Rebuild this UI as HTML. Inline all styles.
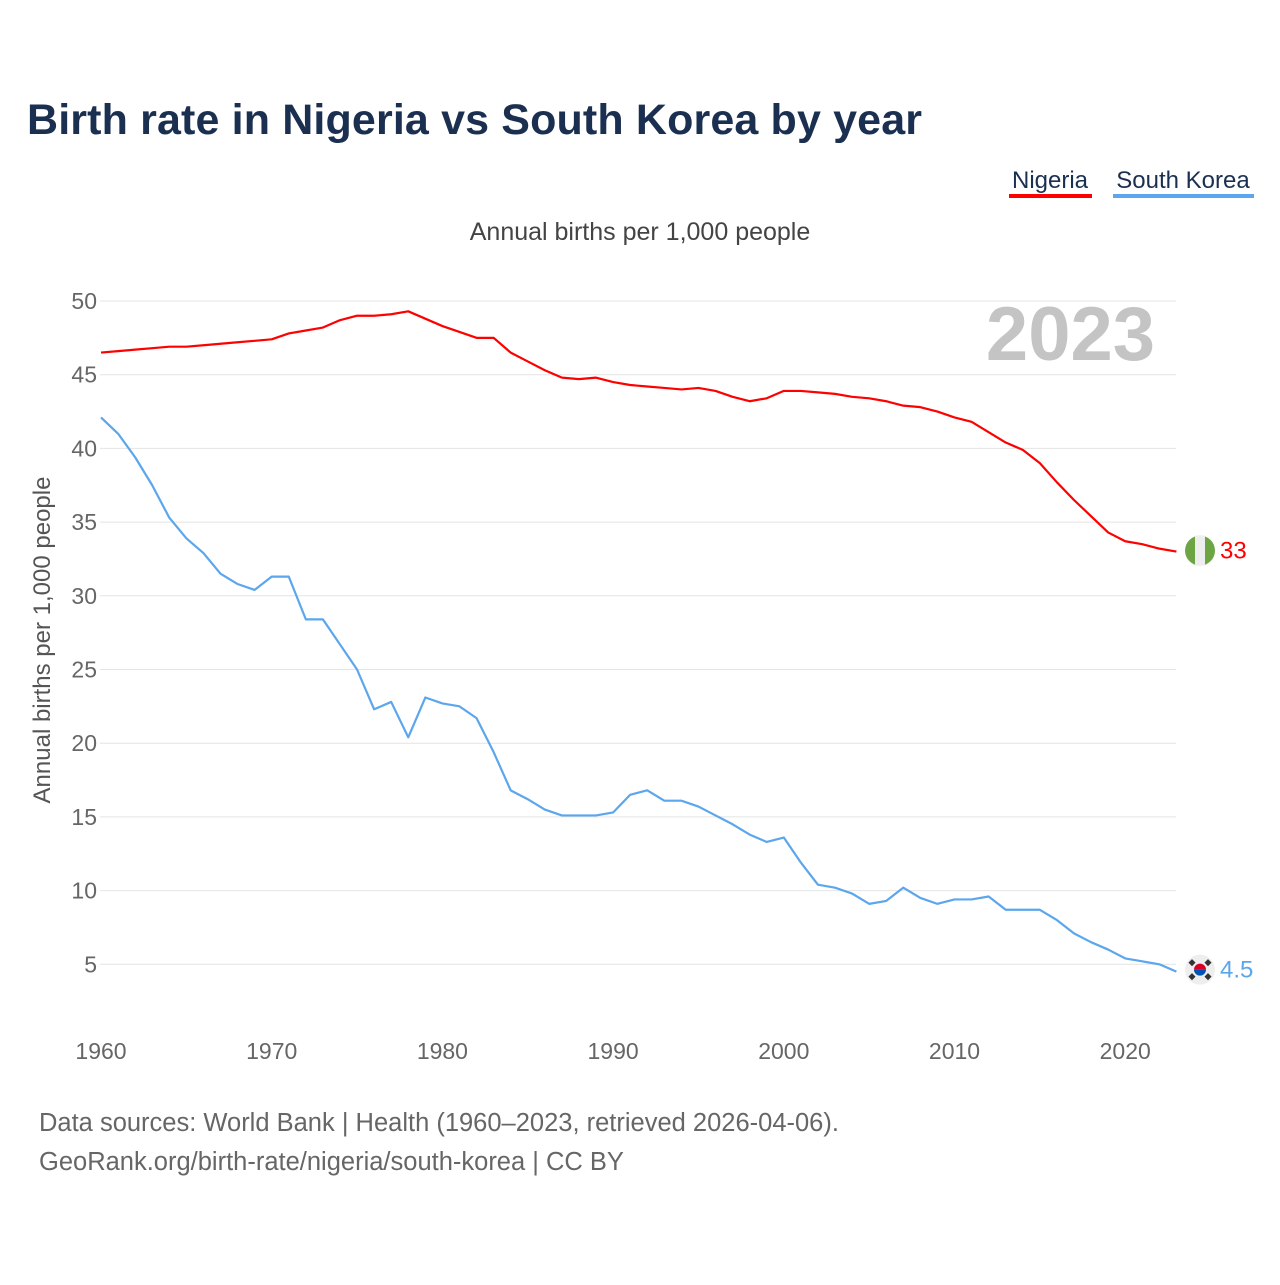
<!DOCTYPE html>
<html><head><meta charset="utf-8"><style>
body{margin:0;background:#fff;font-family:"Liberation Sans",sans-serif;}
svg text{font-family:"Liberation Sans",sans-serif;}
</style></head><body>
<svg id="chart" width="1280" height="1280" viewBox="0 0 1280 1280">
<text x="27" y="134" font-size="43" font-weight="bold" fill="#1b3050" textLength="895">Birth rate in Nigeria vs South Korea by year</text>
<g>
<text x="1050" y="188" font-size="24" fill="#1b3050" text-anchor="middle">Nigeria</text>
<rect x="1009" y="194" width="83" height="4" fill="#ff0000"/>
<text x="1183" y="188" font-size="24" fill="#1b3050" text-anchor="middle">South Korea</text>
<rect x="1113" y="194" width="141" height="4" fill="#5ba6ec"/>
</g>
<text x="640" y="240" font-size="25" fill="#444" text-anchor="middle">Annual births per 1,000 people</text>
<text transform="translate(50,640) rotate(-90)" font-size="24" fill="#555" text-anchor="middle">Annual births per 1,000 people</text>
<text x="1155" y="360" font-size="76" font-weight="bold" fill="#c4c4c4" text-anchor="end">2023</text>
<g id="grid"></g><g id="series"></g>
<g>
<text x="39" y="1131" font-size="25.5" fill="#666">Data sources: World Bank | Health (1960–2023, retrieved 2026-04-06).</text>
<text x="39" y="1170" font-size="25.5" fill="#666">GeoRank.org/birth-rate/nigeria/south-korea | CC BY</text>
</g>
</svg>
<script>
const startYear = 1960;
const yTicks = [5,10,15,20,25,30,35,40,45,50];
const xTicks = [1960,1970,1980,1990,2000,2010,2020];
const nigeria = [46.5,46.6,46.7,46.8,46.9,46.9,47.0,47.1,47.2,47.3,47.4,47.8,48.0,48.2,48.7,49.0,49.0,49.1,49.3,48.8,48.3,47.9,47.5,47.5,46.5,45.9,45.3,44.8,44.7,44.8,44.5,44.3,44.2,44.1,44.0,44.1,43.9,43.5,43.2,43.4,43.9,43.9,43.8,43.7,43.5,43.4,43.2,42.9,42.8,42.5,42.1,41.8,41.1,40.4,39.9,39.0,37.7,36.5,35.4,34.3,33.7,33.5,33.2,33.0];
const korea = [42.1,41.0,39.4,37.5,35.3,33.9,32.9,31.5,30.8,30.4,31.3,31.3,28.4,28.4,26.7,25.0,22.3,22.8,20.4,23.1,22.7,22.5,21.7,19.4,16.8,16.2,15.5,15.1,15.1,15.1,15.3,16.5,16.8,16.1,16.1,15.7,15.1,14.5,13.8,13.3,13.6,11.9,10.4,10.2,9.8,9.1,9.3,10.2,9.5,9.1,9.4,9.4,9.6,8.7,8.7,8.7,8.0,7.1,6.5,6.0,5.4,5.2,5.0,4.5];
const NS='http://www.w3.org/2000/svg';
const xS = y => 101 + (y-1960)*17.07;
const yS = v => 301 + (50-v)*14.74;
const grid=document.getElementById('grid'), ser=document.getElementById('series');
function mk(tag,attrs,parent){const e=document.createElementNS(NS,tag);for(const k in attrs)e.setAttribute(k,attrs[k]);parent.appendChild(e);return e;}
yTicks.forEach(t=>{
  const l=mk('line',{x1:100,x2:1176,y1:yS(t),y2:yS(t),stroke:'#e4e4e4','stroke-width':1},grid);
  
  
  const tx=mk('text',{x:97,y:yS(t)+8,'font-size':23,fill:'#666','text-anchor':'end'},grid);
  tx.textContent=t;
  
  
});
xTicks.forEach(t=>{
  const tx=mk('text',{x:xS(t),y:1059,'font-size':23,fill:'#666','text-anchor':'middle'},grid);
  tx.textContent=t;
  
  
});
function line(data,color,name){
  const p=mk('polyline',{points:data.map((v,i)=>xS(startYear+i)+','+yS(v)).join(' '),fill:'none',stroke:color,'stroke-width':2.2,'stroke-linejoin':'round'},ser);
  
  
}
line(nigeria,'#ff0000','nigeria-line');
line(korea,'#5ba6ec','south-korea-line');
const ny=yS(nigeria[nigeria.length-1])-1, ky=yS(korea[korea.length-1])-2;
const ng=mk('g',{},ser);


mk('circle',{cx:1200,cy:ny,r:15,fill:'#6da544'},ng);
mk('rect',{x:1195,y:ny-15,width:10,height:30,fill:'#eee'},ng);
const nt=mk('text',{x:1220,y:ny+8,'font-size':24,fill:'#ff0000'},ser);
nt.textContent='33';


const kg=mk('g',{},ser);


mk('circle',{cx:1200,cy:ky,r:15,fill:'#eee'},kg);
mk('path',{d:`M1194 ${ky} A6 6 0 0 1 1206 ${ky} Z`,fill:'#d80027'},kg);
mk('path',{d:`M1194 ${ky} A6 6 0 0 0 1206 ${ky} Z`,fill:'#0052b4'},kg);
[[-8,-7],[8,-7],[-8,7],[8,7]].forEach(([dx,dy])=>mk('rect',{x:1200+dx-2.5,y:ky+dy-2.5,width:5,height:5,fill:'#333',transform:`rotate(45 ${1200+dx} ${ky+dy})`},kg));
const kt=mk('text',{x:1220,y:ky+8,'font-size':24,fill:'#5ba6ec'},ser);
kt.textContent='4.5';


</script>
</body></html>
